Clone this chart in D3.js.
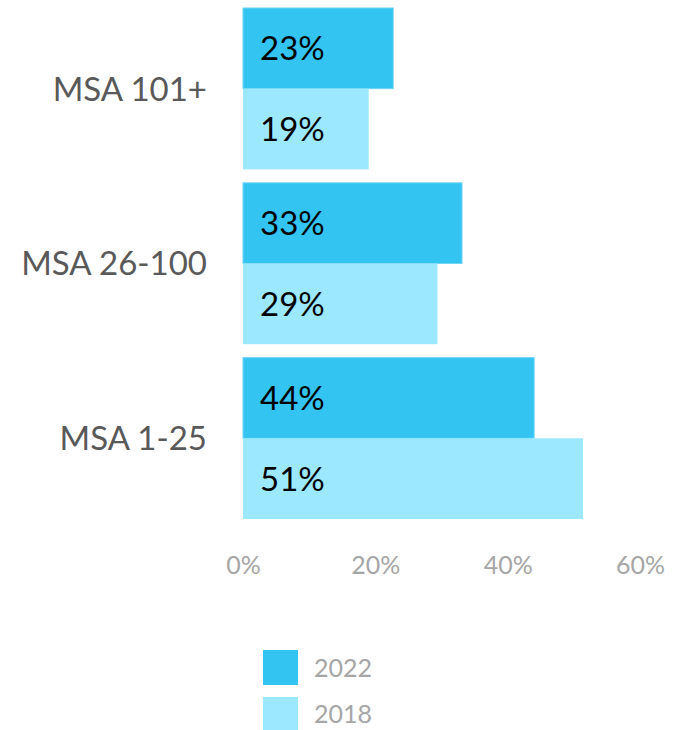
<!DOCTYPE html>
<html>
<head>
<meta charset="utf-8">
<script src="https://cdn.jsdelivr.net/npm/d3@7"></script>
<style>
  body { margin: 0; background: #fff; }
  svg text { font-family: Lato, "Open Sans", sans-serif; }
</style>
</head>
<body>
<div id="chart"></div>
<script>
// Chart data (bar lengths, labels are rounded)
const categories = ['MSA 101+', 'MSA 26-100', 'MSA 1-25'];
const seriesNames = ['2022', '2018'];
const values2022 = [22.7, 33.1, 44.0];
const values2018 = [19.0, 29.4, 51.4];
const xTicks = [0, 20, 40, 60];

const colors = { '2022': '#33C4F2', '2018': '#9CE9FF' };

const width = 692;
const height = 730;

const svg = d3.select('#chart').append('svg')
    .attr('width', width)
    .attr('height', height);

// Scales
const x = d3.scaleLinear().domain([0, 60]).range([243, 640]);

const y = d3.scaleBand()
    .domain(categories)
    .range([8, 519])
    .paddingInner(0.077)
    .paddingOuter(0);

const ySub = d3.scaleBand()
    .domain(seriesNames)
    .range([0, y.bandwidth()]);

const rows = [];
categories.forEach((c, i) => {
    rows.push({ category: c, series: '2022', value: values2022[i] });
    rows.push({ category: c, series: '2018', value: values2018[i] });
});

const pct = d => d3.format('.0f')(d) + '%';

// Bars
svg.selectAll('rect.bar')
    .data(rows)
    .enter().append('rect')
    .attr('class', 'bar')
    .attr('x', x(0))
    .attr('y', d => y(d.category) + ySub(d.series))
    .attr('width', d => x(d.value) - x(0))
    .attr('height', ySub.bandwidth())
    .attr('fill', d => colors[d.series])
    .attr('stroke', d => d.series === '2022' ? '#6fd5f6' : 'none')
    .attr('stroke-width', 1);

// Value labels
svg.selectAll('text.value')
    .data(rows)
    .enter().append('text')
    .attr('class', 'value')
    .attr('x', x(0) + 17)
    .attr('y', d => y(d.category) + ySub(d.series) + ySub.bandwidth() / 2)
    .attr('dy', '0.36em')
    .attr('font-size', 33)
    .attr('fill', '#000')
    .text(d => pct(d.value));

// Category labels
svg.selectAll('text.cat')
    .data(categories)
    .enter().append('text')
    .attr('class', 'cat')
    .attr('x', 207)
    .attr('y', d => y(d) + y.bandwidth() / 2)
    .attr('dy', '0.36em')
    .attr('text-anchor', 'end')
    .attr('font-size', 33)
    .attr('fill', '#595959')
    .text(d => d);

// X axis
const xAxis = svg.append('g')
    .attr('transform', 'translate(0,553)')
    .call(d3.axisBottom(x).tickValues(xTicks).tickFormat(d => d + '%').tickSize(0));
xAxis.select('.domain').remove();
xAxis.selectAll('text')
    .attr('font-size', 25)
    .attr('fill', '#A6A6A6')
    .attr('dy', '0.71em');

// Legend
const legend = svg.append('g');
const legendY = d3.scaleBand().domain(seriesNames).range([650, 732]).paddingInner(0.255);

legend.selectAll('rect')
    .data(seriesNames)
    .enter().append('rect')
    .attr('x', 263)
    .attr('y', d => legendY(d))
    .attr('width', 35)
    .attr('height', legendY.bandwidth())
    .attr('fill', d => colors[d]);

legend.selectAll('text')
    .data(seriesNames)
    .enter().append('text')
    .attr('x', 314)
    .attr('y', d => legendY(d) + legendY.bandwidth() / 2)
    .attr('dy', '0.36em')
    .attr('font-size', 25)
    .attr('fill', '#A6A6A6')
    .text(d => d);
</script>
</body>
</html>
